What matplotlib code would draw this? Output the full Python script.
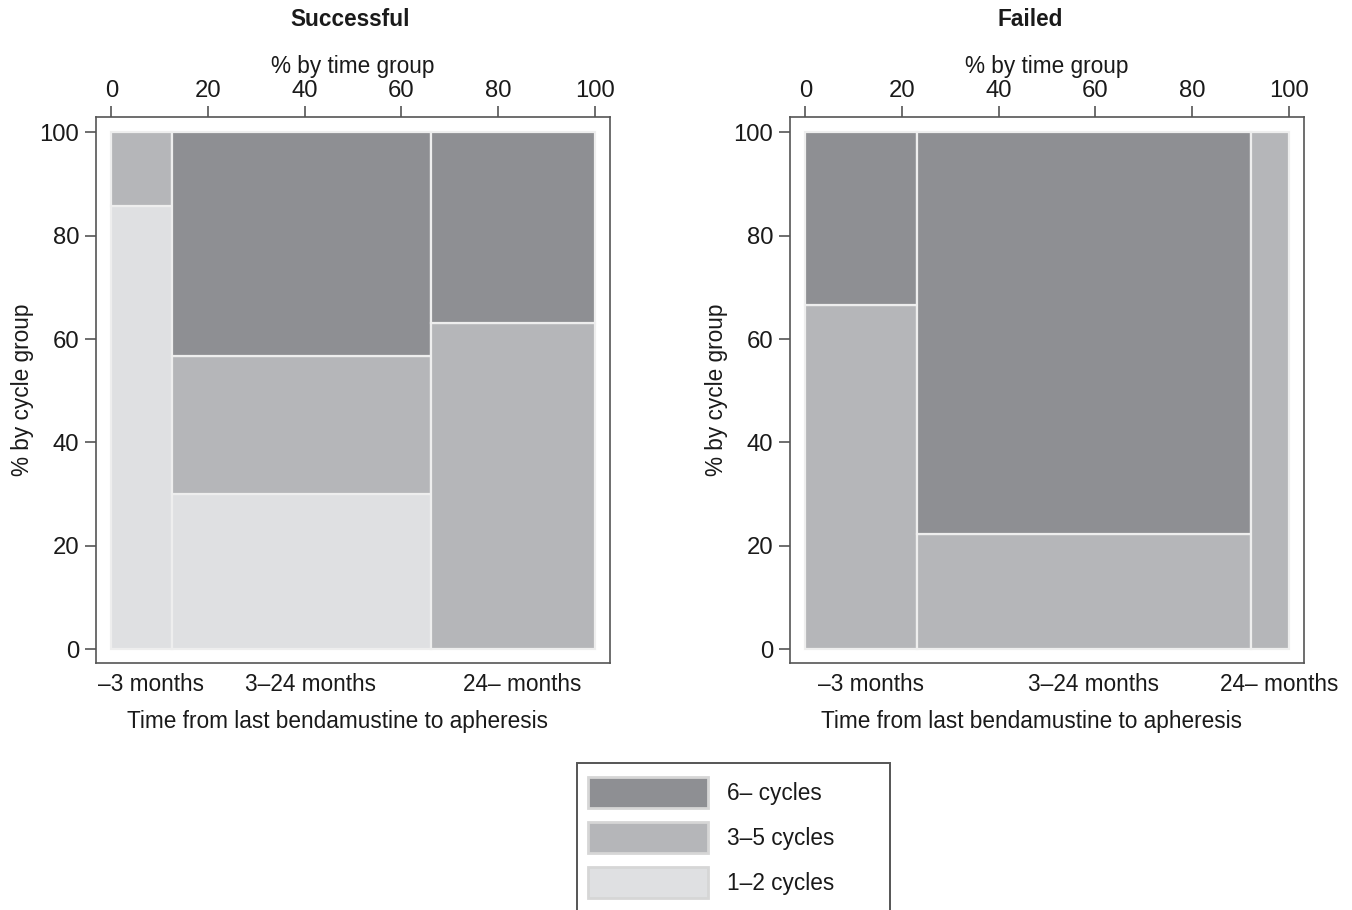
import matplotlib
matplotlib.use("Agg")
import matplotlib.pyplot as plt
from matplotlib.patches import Patch, Rectangle
import numpy as np

plt.rcParams['font.family'] = ['Liberation Sans', 'DejaVu Sans']
plt.rcParams['font.size'] = 16

# ---- data ----
time_groups = ['\u20133 months', '3\u201324 months', '24\u2013 months']
cycle_groups = ['1\u20132 cycles', '3\u20135 cycles', '6\u2013 cycles']

# % by time group (column widths)
succ_time_pct = [12.5, 53.6, 33.9]
fail_time_pct = [23.1, 69.2, 7.7]

# % by cycle group within each time group: rows = time group, cols = [1-2, 3-5, 6-]
succ_cycle_pct = [[85.7, 14.3, 0.0],
                  [30.0, 26.7, 43.3],
                  [0.0, 63.2, 36.8]]
fail_cycle_pct = [[0.0, 66.7, 33.3],
                  [0.0, 22.2, 77.8],
                  [0.0, 100.0, 0.0]]

panel_titles = ['Successful', 'Failed']
xticks = [0, 20, 40, 60, 80, 100]
yticks = [0, 20, 40, 60, 80, 100]

# ---- styles ----
colors = {'1\u20132 cycles': '#dfe0e2', '3\u20135 cycles': '#b5b6b9', '6\u2013 cycles': '#8e8f93'}
tile_edge = '#eeeeee'
frame_col = '#555555'
text_col = '#1a1a1a'
FS = 16.3
TICK_FS = 17.2

W, H = 1352, 910
fig = plt.figure(figsize=(W / 100, H / 100), dpi=100)
ax_left = fig.add_axes([96 / W, 1 - 663 / H, 514 / W, 546 / H])
ax_right = fig.add_axes([790 / W, 1 - 663 / H, 514 / W, 546 / H])


def draw_panel(ax, time_pct, cycle_pct):
    starts = np.concatenate([[0], np.cumsum(time_pct)[:-1]])
    for i, (x0, w) in enumerate(zip(starts, time_pct)):
        bottom = 0.0
        for j, cg in enumerate(cycle_groups):
            h = cycle_pct[i][j]
            if h > 0:
                ax.bar(x0, h, width=w, bottom=bottom, align='edge',
                       color=colors[cg], edgecolor=tile_edge, linewidth=1.6)
            bottom += h
        ax.text(x0 + w / 2 + 2, -0.018, time_groups[i], transform=ax.get_xaxis_transform(),
                ha='center', va='top', fontsize=FS, color=text_col)
    ax.set_xlim(-3.2, 103.2)
    ax.set_ylim(-2.7, 103.0)
    ax.xaxis.tick_top()
    ax.xaxis.set_label_position('top')
    ax.set_xticks(xticks)
    ax.set_yticks(yticks)
    ax.tick_params(axis='x', which='both', top=True, bottom=False, length=8,
                   width=1.2, color=frame_col, pad=3, labelsize=TICK_FS, labelcolor=text_col)
    ax.tick_params(axis='y', length=8, width=1.2, color=frame_col, pad=4,
                   labelsize=TICK_FS, labelcolor=text_col)
    ax.set_xlabel('% by time group', fontsize=FS, color=text_col, labelpad=5)
    ax.set_ylabel('% by cycle group', fontsize=FS, color=text_col, labelpad=4)
    for s in ax.spines.values():
        s.set_color(frame_col)
        s.set_linewidth(1.2)
    ax.text(0.469, -0.086, 'Time from last bendamustine to apheresis', transform=ax.transAxes,
            ha='center', va='top', fontsize=FS, color=text_col)


draw_panel(ax_left, succ_time_pct, succ_cycle_pct)
draw_panel(ax_right, fail_time_pct, fail_cycle_pct)

fig.text(350 / W, 1 - 20 / H, panel_titles[0], ha='center', va='center',
         fontsize=FS, fontweight='bold', color=text_col)
fig.text(1030 / W, 1 - 20 / H, panel_titles[1], ha='center', va='center',
         fontsize=FS, fontweight='bold', color=text_col)

# ---- legend ----
frame = Rectangle((577 / W, -0.05), (890 - 577) / W, (910 - 763) / H + 0.05,
                  transform=fig.transFigure, fill=False, edgecolor=frame_col, linewidth=1.4)
fig.patches.append(frame)
order = ['6\u2013 cycles', '3\u20135 cycles', '1\u20132 cycles']
handles = [Patch(facecolor=colors[c], edgecolor='#d6d6d6', linewidth=2) for c in order]
fs_px = FS * 100 / 72
fig.legend(handles, order, loc='upper left', bbox_to_anchor=(588 / W, 1 - 777 / H),
           frameon=False, fontsize=FS, handlelength=120 / fs_px, handleheight=1.70,
           labelspacing=0.64, borderpad=0, borderaxespad=0,
           handletextpad=19 / fs_px, labelcolor=text_col)

fig.savefig('out.png', dpi=100)
